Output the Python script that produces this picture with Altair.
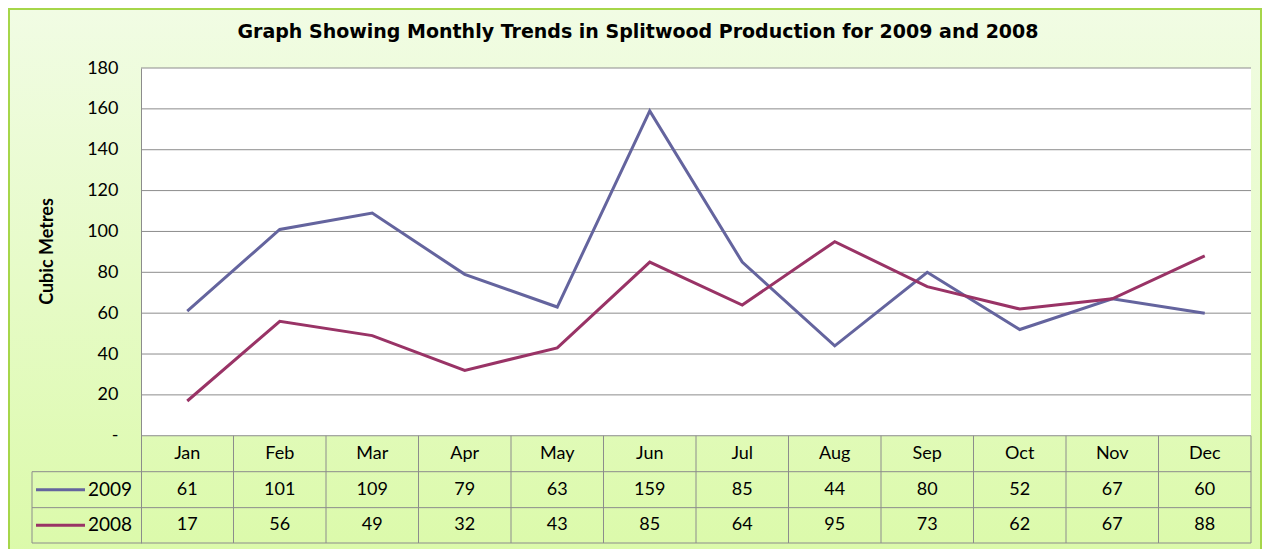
import altair as alt
import pandas as pd

# ---------------- data ----------------
months = ["Jan", "Feb", "Mar", "Apr", "May", "Jun", "Jul", "Aug", "Sep", "Oct", "Nov", "Dec"]
series_names = ["2009", "2008"]
values_2009 = [61, 101, 109, 79, 63, 159, 85, 44, 80, 52, 67, 60]
values_2008 = [17, 56, 49, 32, 43, 85, 64, 95, 73, 62, 67, 88]
y_ticks = [0, 20, 40, 60, 80, 100, 120, 140, 160, 180]
title_text = "Graph Showing Monthly Trends in Splitwood Production for 2009 and 2008"
y_title = "Cubic Metres"
colors = ["#64649e", "#993366"]

# ---------------- layout ----------------
W, H = 1110, 475          # plot + table area
Y_MAX = 180
Y_MIN = -52.5             # table sits below zero
ROW = 17.6                # table row height in y units
LEG_X = -109 / 92.5       # legend column left edge in x units
FONT = "Lato"
GRID = "#8c8c8c"

x_scale = alt.Scale(domain=[0, 12], nice=False, zero=False)
y_scale = alt.Scale(domain=[Y_MIN, Y_MAX], nice=False, zero=False)
y_axis = alt.Axis(
    values=y_ticks,
    labelExpr="datum.value == 0 ? '-' : datum.label",
    grid=False, zindex=1,
    domain=True, domainColor=GRID, domainWidth=1,
    ticks=False, labelPadding=23,
    labelFont=FONT, labelFontSize=18, labelColor="#000",
    title=y_title, titleFont=FONT, titleFontSize=18, titleFontWeight="bold",
    titleColor="#000", titleX=-94, titleY=183, titleBaseline="middle",
    titleAlign="center", titleAngle=270,
)

vals = {"2009": values_2009, "2008": values_2008}
rows = []
for s in series_names:
    for i, m in enumerate(months):
        rows.append({"month": m, "pos": i + 0.5, "series": s, "value": vals[s][i]})
df = pd.DataFrame(rows)

row_y = {"2009": -1.5 * ROW, "2008": (-2 * ROW + Y_MIN) / 2}
df["ty"] = df["series"].map(row_y)

# background frame with gradient
bg = alt.Chart(pd.DataFrame({"a": [0]})).mark_rect(
    fill=alt.LinearGradient(
        gradient="linear", x1=0, x2=0, y1=0, y2=1,
        stops=[alt.GradientStop(offset=0, color="#f1fce4"),
               alt.GradientStop(offset=1, color="#dbfaa9")],
    ),
    stroke="#a6d64a", strokeWidth=2,
).encode(x=alt.value(-132), x2=alt.value(W + 10), y=alt.value(-59), y2=alt.value(H + 20))

# white plot area
plot_df = pd.DataFrame({"x0": [0], "x1": [12], "y0": [0], "y1": [Y_MAX]})
plot_area = alt.Chart(plot_df).mark_rect(fill="white").encode(
    x=alt.X("x0:Q", scale=x_scale, axis=None),
    x2="x1:Q",
    y=alt.Y("y0:Q", scale=y_scale, axis=y_axis),
    y2="y1:Q",
)

# horizontal gridlines
grid_df = pd.DataFrame({"g": y_ticks})
grid = alt.Chart(grid_df).mark_rule(color=GRID, strokeWidth=1).encode(
    y=alt.Y("g:Q", scale=y_scale, axis=y_axis),
)

# lines
lines = alt.Chart(df).mark_line(strokeWidth=3).encode(
    x=alt.X("pos:Q", scale=x_scale, axis=None),
    y=alt.Y("value:Q", scale=y_scale, axis=y_axis),
    color=alt.Color("series:N", scale=alt.Scale(domain=series_names, range=colors), legend=None),
)

# table grid
vlines = pd.DataFrame(
    [{"xv": float(k), "ya": 0.0, "yb": Y_MIN} for k in range(1, 13)]
    + [{"xv": LEG_X, "ya": -ROW, "yb": Y_MIN}]
)
vrules = alt.Chart(vlines).mark_rule(color=GRID, strokeWidth=1).encode(
    x=alt.X("xv:Q", scale=x_scale, axis=None),
    y=alt.Y("ya:Q", scale=y_scale, axis=y_axis),
    y2="yb:Q",
)
hlines = pd.DataFrame({"yh": [-ROW, -2 * ROW, Y_MIN], "xa": [LEG_X] * 3, "xb": [12.0] * 3})
hrules = alt.Chart(hlines).mark_rule(color=GRID, strokeWidth=1).encode(
    y=alt.Y("yh:Q", scale=y_scale, axis=y_axis),
    x=alt.X("xa:Q", scale=x_scale, axis=None),
    x2="xb:Q",
)

# month header
hdr = pd.DataFrame({"month": months, "pos": [i + 0.5 for i in range(12)], "ty": [-ROW / 2] * 12})
header = alt.Chart(hdr).mark_text(font=FONT, fontSize=18, color="#000", baseline="middle").encode(
    x=alt.X("pos:Q", scale=x_scale, axis=None),
    y=alt.Y("ty:Q", scale=y_scale, axis=y_axis),
    text="month:N",
)

# values
cells = alt.Chart(df).mark_text(font=FONT, fontSize=18, color="#000", baseline="middle").encode(
    x=alt.X("pos:Q", scale=x_scale, axis=None),
    y=alt.Y("ty:Q", scale=y_scale, axis=y_axis),
    text="value:Q",
)

# legend keys in the table
leg = pd.DataFrame({"series": series_names, "ty": [row_y[s] for s in series_names],
                    "xa": [-105 / 92.5] * 2, "xb": [-56 / 92.5] * 2, "xt": [-53 / 92.5] * 2})
leg_lines = alt.Chart(leg).mark_rule(strokeWidth=3).encode(
    x=alt.X("xa:Q", scale=x_scale, axis=None),
    x2="xb:Q",
    y=alt.Y("ty:Q", scale=y_scale, axis=y_axis),
    color=alt.Color("series:N", scale=alt.Scale(domain=series_names, range=colors), legend=None),
)
leg_text = alt.Chart(leg).mark_text(font=FONT, fontSize=19, align="left", baseline="middle", color="#000").encode(
    x=alt.X("xt:Q", scale=x_scale, axis=None),
    y=alt.Y("ty:Q", scale=y_scale, axis=y_axis),
    text="series:N",
)

title = alt.Chart(pd.DataFrame({"t": [title_text]})).mark_text(
    font="DejaVu Sans", fontSize=19, fontWeight="bold", color="#000", baseline="middle"
).encode(x=alt.value(497), y=alt.value(-36), text="t:N")

chart = alt.layer(
    bg, plot_area, grid, lines, vrules, hrules, header, cells, leg_lines, leg_text, title
).properties(
    width=W, height=H,
    autosize=alt.AutoSizeParams(type="none"),
    padding={"left": 133, "top": 60, "right": 11, "bottom": 6},
).configure_view(stroke=None).configure(background="#ffffff")

chart.save("out.html", embed_options={"renderer": "svg", "actions": False})
